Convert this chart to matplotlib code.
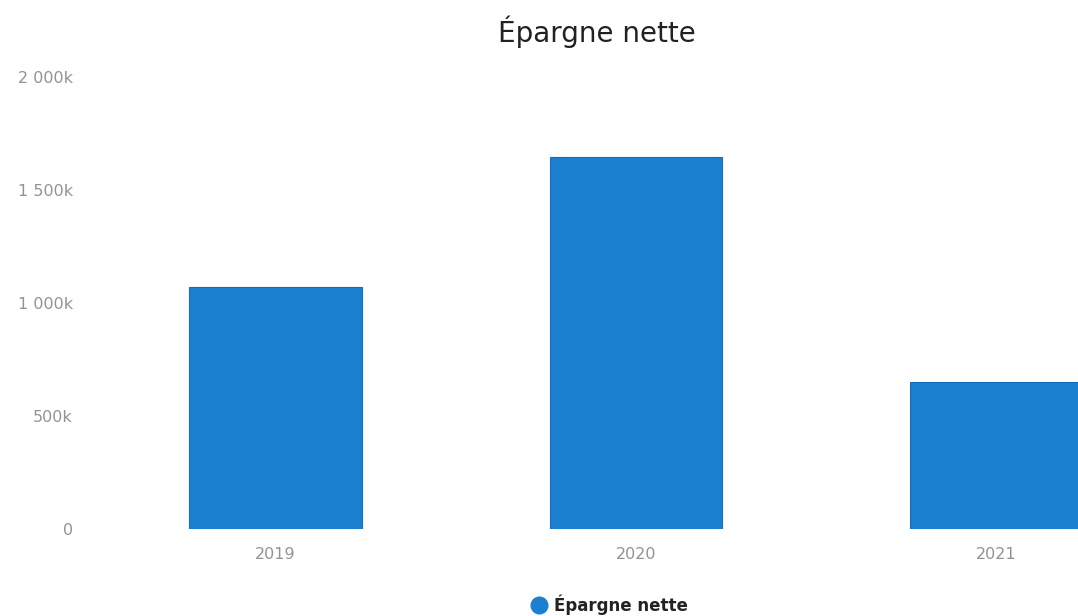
import matplotlib
matplotlib.use("Agg")
import matplotlib.pyplot as plt
from matplotlib.lines import Line2D
from matplotlib.ticker import FuncFormatter

years = ["2019", "2020", "2021"]
epargne = [1070000, 1645000, 650000]
y_ticks = [0, 500000, 1000000, 1500000, 2000000]

BAR = "#1b80d0"
W, H = 1078, 616

fig = plt.figure(figsize=(W / 100, H / 100), dpi=100)
# plot area runs past the right edge, so the last bar is clipped
ax = fig.add_axes([95 / W, (H - 529) / H, 1082 / W, 452 / H])

x = range(len(years))
ax.bar(x, epargne, width=0.478, color=BAR, edgecolor="#176cbd", linewidth=0.8)
ax.set_xlim(-0.5, len(years) - 0.5)
ax.set_ylim(0, 2000000)

ax.set_xticks(list(x))
ax.set_xticklabels(years)
ax.set_yticks(y_ticks)


def fmt_k(v, _):
    if v == 0:
        return "0"
    k = int(round(v / 1000))
    return f"{k:,}".replace(",", " ") + "k"


ax.yaxis.set_major_formatter(FuncFormatter(fmt_k))
ax.tick_params(axis="both", length=0, labelsize=11.5, labelcolor="#939393")
ax.tick_params(axis="x", pad=13)
ax.tick_params(axis="y", pad=16)
for s in ax.spines.values():
    s.set_visible(False)

fig.text(597 / W, 1 - 32 / H, "Épargne nette", ha="center", va="center",
         fontsize=20, color="#222222")

handle = Line2D([], [], marker="o", linestyle="", markersize=12,
                markerfacecolor=BAR, markeredgecolor=BAR)
fig.legend([handle], ["Épargne nette"], loc="center",
           bbox_to_anchor=(608 / W, 1 - 605 / H), frameon=False,
           prop={"family": "DejaVu Sans", "size": 12, "weight": "bold"},
           handletextpad=0.3, handlelength=1.2, labelcolor="#222222")

fig.savefig("out.png", dpi=100)
